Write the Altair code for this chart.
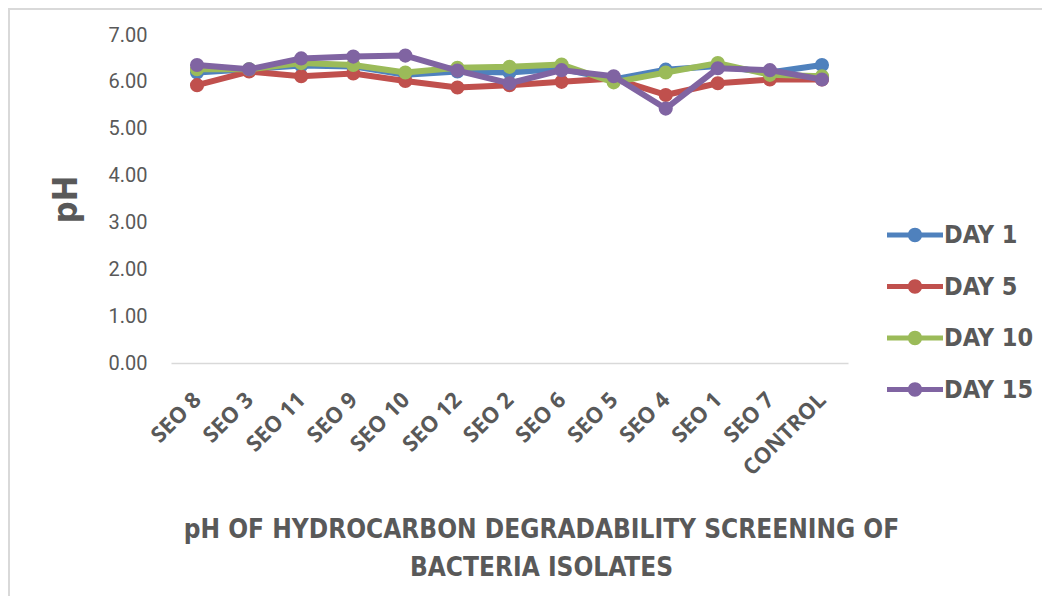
import altair as alt
import pandas as pd

# ---------------- data ----------------
categories = ["SEO 8", "SEO 3", "SEO 11", "SEO 9", "SEO 10", "SEO 12", "SEO 2",
              "SEO 6", "SEO 5", "SEO 4", "SEO 1", "SEO 7", "CONTROL"]
day1 = [6.20, 6.27, 6.35, 6.33, 6.15, 6.22, 6.20, 6.28, 6.05, 6.26, 6.34, 6.20, 6.36]
day5 = [5.93, 6.22, 6.12, 6.18, 6.02, 5.88, 5.93, 6.00, 6.07, 5.72, 5.97, 6.05, 6.05]
day10 = [6.27, 6.27, 6.40, 6.36, 6.20, 6.30, 6.32, 6.37, 5.99, 6.20, 6.40, 6.15, 6.12]
day15 = [6.36, 6.27, 6.50, 6.54, 6.56, 6.24, 5.97, 6.25, 6.12, 5.43, 6.29, 6.25, 6.05]
series_names = ["DAY 1", "DAY 5", "DAY 10", "DAY 15"]
series_colors = ["#4F81BD", "#C0504D", "#9BBB59", "#8064A2"]
y_ticks = [0, 1, 2, 3, 4, 5, 6, 7]
x_title = ["pH OF HYDROCARBON DEGRADABILITY SCREENING OF", "BACTERIA ISOLATES"]
y_title = "pH"

rows = []
for name, vals in zip(series_names, [day1, day5, day10, day15]):
    for c, v in zip(categories, vals):
        rows.append({"isolate": c, "ph": v, "day": name})
df = pd.DataFrame(rows)

# ---------------- style ----------------
NARROW = "'DejaVu Sans Condensed', Roboto, sans-serif"
GREY = "#595959"
W, H = 677, 328
PAD = {"left": 163, "top": 27, "right": 194, "bottom": 233}

color_scale = alt.Scale(domain=series_names, range=series_colors)

x_enc = alt.X(
    "isolate:N",
    sort=categories,
    scale=alt.Scale(type="point", padding=0.5),
    axis=alt.Axis(
        title=x_title,
        titleFont=NARROW, titleFontSize=26, titleFontWeight="bold", titleColor=GREY,
        titleX=370, titleY=174, titleAlign="center", titleBaseline="alphabetic",
        titleLineHeight=38,
        labelFont="Open Sans", labelFontSize=22, labelFontWeight="bold",
        labelColor=GREY, labelAngle=-45, labelAlign="right", labelBaseline="middle",
        labelPadding=33, ticks=False, domainColor="#d9d9d9", domainWidth=1.5,
        grid=False,
    ),
)
y_enc = alt.Y(
    "ph:Q",
    scale=alt.Scale(domain=[0, 7], nice=False, zero=True),
    axis=alt.Axis(
        values=y_ticks, format=".2f", title=y_title,
        titleFont=NARROW, titleFontSize=34, titleFontWeight="bold", titleColor=GREY,
        titleX=-95, titleY=164, titleAlign="center", titleBaseline="alphabetic",
        titleAngle=270,
        labelFont="Roboto", labelFontSize=20, labelColor=GREY, labelPadding=24,
        ticks=False, domain=False, grid=False,
    ),
)

legend_path = ("M-1.4,-0.13L1.4,-0.13L1.4,0.13L-1.4,0.13Z"
               "M0.36,0A0.36,0.36,0,1,1,-0.36,0A0.36,0.36,0,1,1,0.36,0Z")
legend = alt.Legend(
    title=None, orient="none", legendX=724, legendY=180,
    symbolType=legend_path, symbolSize=1600, symbolStrokeWidth=0,
    labelFont=NARROW, labelFontSize=25, labelFontWeight="bold", labelColor=GREY,
    labelOffset=9, rowPadding=18.5, padding=0, labelLimit=300,
)

color_enc = alt.Color("day:N", scale=color_scale, legend=legend)

base = alt.Chart(df)
layers = []
for name in series_names:
    sub = base.transform_filter(alt.datum.day == name)
    layers.append(
        sub.mark_line(strokeWidth=6, strokeJoin="round", strokeCap="round").encode(
            x=x_enc, y=y_enc, color=color_enc,
        )
    )
    layers.append(
        sub.mark_point(filled=True, size=200, opacity=1, strokeWidth=0).encode(
            x=x_enc, y=y_enc, color=color_enc,
        )
    )

frame = alt.Chart(pd.DataFrame({"k": [0]}))
left_border = frame.mark_rule(color="#d9d9d9", strokeWidth=2).encode(
    x=alt.value(-162), y=alt.value(-27), y2=alt.value(H + PAD["bottom"])
)
top_border = frame.mark_rule(color="#d9d9d9", strokeWidth=2).encode(
    y=alt.value(-26), x=alt.value(-163), x2=alt.value(W + PAD["right"])
)

chart = (
    alt.layer(left_border, top_border, *layers)
    .properties(width=W, height=H, padding=PAD,
                autosize=alt.AutoSizeParams(type="none"), background="white")
    .configure_view(stroke=None)
)

chart.save("out.html", embed_options={"renderer": "svg", "actions": False})
